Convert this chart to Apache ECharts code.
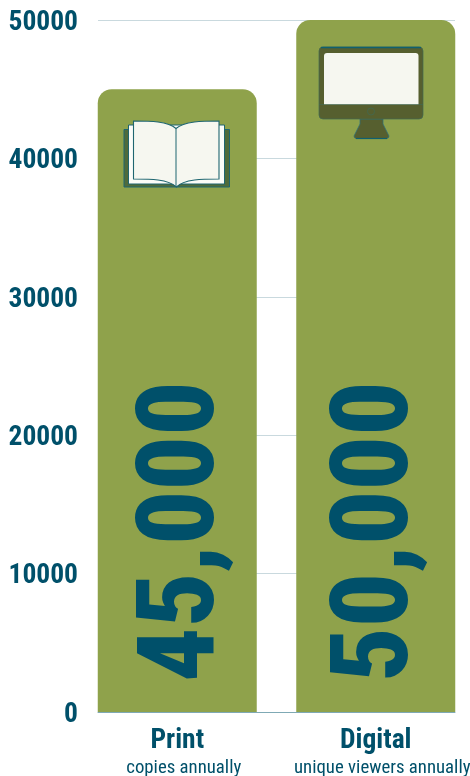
<!DOCTYPE html>
<html><head><meta charset="utf-8">
<style>html,body{margin:0;padding:0;background:#fff}#c{width:470px;height:776px}</style>
<script src="https://cdn.jsdelivr.net/npm/echarts@6/dist/echarts.min.js"></script>
</head><body><div id="c"></div>
<script>
const categories = ['Print', 'Digital'];
const subtitles = ['copies annually', 'unique viewers annually'];
const values = [45000, 50000];
const yTicks = [0, 10000, 20000, 30000, 40000, 50000];

const FONT = '"Roboto Condensed", Roboto, sans-serif';
const INK = '#00506A', BAR = '#8FA24B', PAGE = '#F6F7F0', COVER = '#4F6B3B', STEEL = '#565F2F', EDGE = '#2A7080';

// icon outline: bounding box + path, in page pixels
const path = (x, y, width, height, pathData, style) =>
  ({type: 'path', shape: {pathData, x, y, width, height, layout: 'cover'}, style});

const bookIcon = () => [
  path(124, 129.5, 105.5, 57.5, 'M124 129.5H229.5V187H124Z', {fill: COVER, stroke: '#1F6670', lineWidth: 1}),
  path(128.5, 125, 96, 59, 'M128.5 125H224.5V184H128.5Z', {fill: '#FBFCF8', stroke: '#1F6670', lineWidth: 1}),
  path(133.5, 121, 85.5, 66, 'M133.5 121C150 121 168 121 176 128.5C184 121 203 121 219 121V179C203 179 184 179 176.5 187C168 179 150 179 133.5 179Z',
    {fill: PAGE, stroke: '#1F6670', lineWidth: 1.1}),
  {type: 'line', shape: {x1: 176, y1: 128.5, x2: 176, y2: 187}, style: {stroke: '#1F6670', lineWidth: 1}}
];
const monitorIcon = () => [
  path(354, 119, 35, 19.5, 'M360 119H383V124L389 136Q389 138 387 138.5H356Q354 138 354 136L360 124Z', {fill: STEEL, stroke: EDGE, lineWidth: 0.7}),
  {type: 'line', shape: {x1: 356, y1: 138.5, x2: 387, y2: 138.5}, style: {stroke: '#0F6070', lineWidth: 1.2}},
  {type: 'rect', shape: {x: 319, y: 47, width: 104, height: 72, r: 4}, style: {fill: STEEL, stroke: '#3F6A55', lineWidth: 0.7}},
  {type: 'line', shape: {x1: 321, y1: 47.5, x2: 421, y2: 47.5}, style: {stroke: '#0F6070', lineWidth: 1.4}},
  {type: 'rect', shape: {x: 324, y: 53, width: 94.5, height: 51.5, r: [3, 3, 0, 0]}, style: {fill: PAGE}},
  {type: 'line', shape: {x1: 319, y1: 104.5, x2: 423, y2: 104.5}, style: {stroke: '#3F6A55', lineWidth: 0.6}},
  {type: 'circle', shape: {cx: 371, cy: 111.5, r: 3.5}, style: {fill: 'none', stroke: '#3F6A55', lineWidth: 0.7}}
];

const chart = echarts.init(document.getElementById('c'), null, {renderer: 'canvas'});
chart.setOption({
  animation: false,
  grid: [
    {left: 78, right: -5, top: 20, bottom: 64, outerBoundsMode: 'none'},
    {left: 98, right: 15, top: 20, bottom: 64, outerBoundsMode: 'none'}
  ],
  xAxis: [
    {type: 'category', gridIndex: 0, data: categories,
     axisLine: {show: false}, axisTick: {show: false},
     axisLabel: {
       margin: 13, interval: 0, fontFamily: FONT, hideOverlap: false,
       formatter: (v, i) => `{a|${v}}\n{b|${subtitles[i]}}`,
       rich: {
         a: {fontFamily: FONT, fontWeight: 'bold', fontSize: 27.5, color: INK, lineHeight: 32},
         b: {fontFamily: FONT, fontSize: 18.8, color: INK, lineHeight: 22, padding: [1, 0, 0, 13]}
       }
     }},
    {type: 'category', gridIndex: 1, data: categories, axisTick: {show: false},
     axisLabel: {show: false}, axisLine: {lineStyle: {color: '#7FA9B5', width: 1}}}
  ],
  yAxis: [
    {type: 'value', gridIndex: 0, min: 0, max: 50000, interval: 10000,
     splitLine: {show: false}, axisLine: {show: false}, axisTick: {show: false},
     axisLabel: {margin: 0, formatter: v => `{v|${v}}`,
       rich: {v: {padding: [6, 0, 0, 0], fontFamily: FONT, fontWeight: 'bold', fontSize: 27.5, color: INK}}}},
    {type: 'value', gridIndex: 1, min: 0, max: 50000, interval: 10000,
     axisLabel: {show: false}, axisLine: {show: false}, axisTick: {show: false},
     splitLine: {show: true, lineStyle: {color: '#C9D9DE', width: 1}}}
  ],
  series: [
    {type: 'bar', xAxisIndex: 1, yAxisIndex: 1, data: [], z: 1},
    {type: 'bar', xAxisIndex: 0, yAxisIndex: 0, barWidth: 159, z: 3,
     data: values.map((value, i) => ({value, label: {offset: [0, i ? 4 : 9]}})),
     itemStyle: {color: BAR, borderRadius: [14, 14, 0, 0]},
     label: {show: true, position: 'insideBottom', rotate: 90, align: 'left', verticalAlign: 'middle',
       distance: 30, fontFamily: FONT, fontWeight: 800, fontSize: 107.5, color: INK,
       formatter: p => p.value.toLocaleString('en-US')}},
    {type: 'custom', xAxisIndex: 0, yAxisIndex: 0, z: 5, clip: false, silent: true,
     data: values,
     renderItem: (params) => ({type: 'group', children: params.dataIndex === 0 ? bookIcon() : monitorIcon()})}
  ]
});
</script></body></html>
